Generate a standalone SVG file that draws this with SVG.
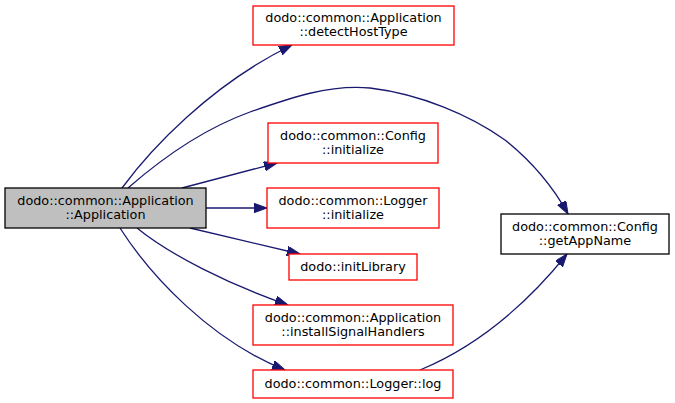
<svg xmlns="http://www.w3.org/2000/svg" width="675" height="403" viewBox="0 0 675 403">
<style>
.n{fill:#fff;stroke:#ff0000;stroke-width:1.3}
.t{font-family:"DejaVu Sans",sans-serif;font-size:12.8px;fill:#000;text-anchor:middle}
.e{fill:none;stroke:#191970;stroke-width:1.3;marker-end:url(#a)}
</style>
<defs>
<marker id="a" markerUnits="userSpaceOnUse" markerWidth="14" markerHeight="10" refX="13" refY="4.7" orient="auto">
<path d="M0,0 L13,4.7 L0,9.4 z" fill="#191970" stroke="#191970"/>
</marker>
</defs>
<rect width="675" height="403" fill="#fff"/>
<g id="edges">
<path class="e" d="M122,188 C150,150 210,85 292,45"/>
<path class="e" d="M128,188 C160,160 200,130 250,112 C290,98 330,84 370,88 C420,94 470,115 505,140 C530,160 552,185 568,214"/>
<path class="e" d="M182,188 L277,163"/>
<path class="e" d="M206,208 L267,208"/>
<path class="e" d="M190,228 L300,254"/>
<path class="e" d="M137,228 C170,255 230,285 288,305"/>
<path class="e" d="M120,228 C150,275 210,340 285,370"/>
<path class="e" d="M420,370 C480,345 530,300 567,254"/>
</g>
<g id="main"><rect x="5" y="188" width="201" height="40" fill="#bfbfbf" stroke="#000" stroke-width="1.3"/>
<text class="t" x="105.5" y="204.5">dodo::common::Application</text><text class="t" x="105.5" y="218.5">::Application</text></g>
<g id="detectHostType"><rect class="n" x="253" y="6" width="201" height="39"/>
<text class="t" x="353.5" y="22">dodo::common::Application</text><text class="t" x="353.5" y="36">::detectHostType</text></g>
<g id="configInit"><rect class="n" x="268" y="123" width="170" height="40"/>
<text class="t" x="353" y="139.5">dodo::common::Config</text><text class="t" x="353" y="153.5">::initialize</text></g>
<g id="loggerInit"><rect class="n" x="267" y="188" width="172" height="40"/>
<text class="t" x="353" y="204.5">dodo::common::Logger</text><text class="t" x="353" y="218.5">::initialize</text></g>
<g id="initLibrary"><rect class="n" x="289" y="254" width="128" height="26"/>
<text class="t" x="353" y="271">dodo::initLibrary</text></g>
<g id="installSignalHandlers"><rect class="n" x="253" y="305" width="200" height="40"/>
<text class="t" x="353" y="321.5">dodo::common::Application</text><text class="t" x="353" y="335.5">::installSignalHandlers</text></g>
<g id="loggerLog"><rect class="n" x="253" y="370" width="200" height="28"/>
<text class="t" x="353" y="388">dodo::common::Logger::log</text></g>
<g id="getAppName"><rect x="501" y="214" width="168" height="40" fill="#fff" stroke="#000" stroke-width="1.3"/>
<text class="t" x="585" y="230.5">dodo::common::Config</text><text class="t" x="585" y="244.5">::getAppName</text></g>
</svg>
